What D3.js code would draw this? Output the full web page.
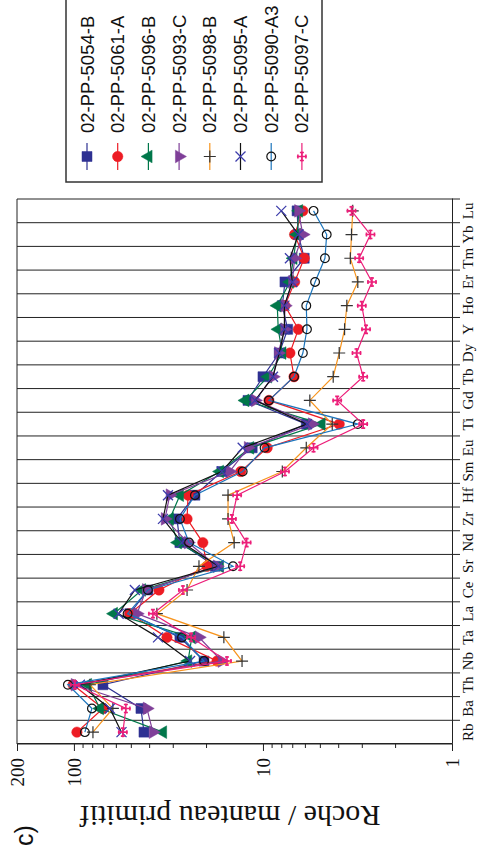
<!DOCTYPE html>
<html>
<head>
<meta charset="utf-8">
<script src="https://cdn.jsdelivr.net/npm/d3@7"></script>
<style>
body { margin: 0; background: #fff; }
</style>
</head>
<body>
<svg width="479" height="856"></svg>
<script>
var elements = ['Rb', 'Ba', 'Th', 'Nb', 'Ta', 'La', 'Ce', 'Sr', 'Nd', 'Zr', 'Hf', 'Sm',
    'Eu', 'Ti', 'Gd', 'Tb', 'Dy', 'Y', 'Ho', 'Er', 'Tm', 'Yb', 'Lu'];

var sampleNames = ['02-PP-5054-B', '02-PP-5061-A', '02-PP-5096-B', '02-PP-5093-C',
    '02-PP-5098-B', '02-PP-5095-A', '02-PP-5090-A3', '02-PP-5097-C'];

var pp5054B = [42.6, 44.2, 70.2, 20.5, 27.5, 50.6, 40.6, 17.9, 27.5, 28.5, 22.9, 16.5,
    11.4, 5.9, 12.0, 10.0, 8.2, 7.4, 7.9, 7.65, 6.05, 6.5, 6.6];
var pp5061A = [96.4, 70.2, 101, 17.5, 32.2, 50.6, 35.5, 19.8, 20.8, 25.2, 24.9, 13.1,
    9.5, 3.95, 9.3, 6.85, 7.2, 6.5, 7.65, 6.8, 6.05, 6.8, 6.15];
var pp5096B = [33.8, 72.8, 84.3, 24.9, 23.8, 61.5, 43.7, 16.9, 28.2, 31.1, 27.5, 16.9,
    11.7, 4.9, 12.4, 9.4, 7.9, 8.3, 8.4, 7.2, 6.9, 6.6, 6.45];
var pp5093C = [38.2, 41.1, 98.8, 16.5, 21.8, 46.4, 41.5, 17.5, 24.9, 33.0, 31.1, 15.0,
    12.0, 5.5, 11.0, 8.85, 8.3, 7.7, 7.65, 7.0, 6.8, 6.15, 6.5];
var pp5098B = [79.3, 62.2, 82.3, 12.9, 16.1, 36.4, 25.2, 21.8, 14.2, 15.3, 15.3, 7.9,
    5.9, 4.3, 5.65, 4.25, 3.95, 3.7, 3.6, 3.15, 3.45, 3.4, 3.35];
var pp5095A = [56, 64.5, 93, 24.3, 35.9, 58, 47.6, 17.2, 26.8, 33.8, 31.8, 16.5,
    12.8, 5.85, 11.0, 8.85, 8.2, 7.7, 7.7, 7.0, 7.2, 6.5, 8.0];
var pp5090A3 = [87.5, 80.3, 107.6, 20.5, 26.8, 52, 40.6, 14.4, 24.6, 27.5, 22.9, 12.8,
    9.8, 3.15, 9.3, 6.85, 6.15, 5.85, 5.9, 5.3, 4.7, 4.6, 5.4];
var pp5097C = [55.1, 53.1, 98.8, 15.5, 24.0, 38.2, 26.5, 13.2, 12.2, 14.6, 13.7, 7.65,
    5.4, 2.95, 4.05, 2.95, 3.2, 2.85, 3.0, 2.65, 3.1, 2.7, 3.4];

var majorTicks = [1, 10, 100, 200];
var minorTicks = [2, 3, 4, 5, 6, 7, 8, 9, 20, 30, 40, 50, 60, 70, 80, 90];

var series = [
    {name: sampleNames[0], values: pp5054B, line: '#2e3192', marker: 'square', color: '#2e3192'},
    {name: sampleNames[1], values: pp5061A, line: '#ed1c24', marker: 'dot', color: '#ed1c24'},
    {name: sampleNames[2], values: pp5096B, line: '#00774a', marker: 'up', color: '#00774a'},
    {name: sampleNames[3], values: pp5093C, line: '#7f3f98', marker: 'down', color: '#7f3f98'},
    {name: sampleNames[4], values: pp5098B, line: '#f7941d', marker: 'plus', color: '#333'},
    {name: sampleNames[5], values: pp5095A, line: '#111', marker: 'cross', color: '#3c3caa'},
    {name: sampleNames[6], values: pp5090A3, line: '#1c75bc', marker: 'ring', color: '#111'},
    {name: sampleNames[7], values: pp5097C, line: '#ec1e79', marker: 'potent', color: '#ec1e79'}
];

var svg = d3.select('svg');

// the chart is drawn upright (856 wide, 479 high) then turned a quarter turn
var chart = svg.append('g')
    .attr('transform', 'translate(0,856) rotate(-90)');

var x = d3.scaleBand()
    .domain(elements)
    .range([112, 657]);
var y = d3.scaleLog()
    .domain([1, 200])
    .range([452, 17]);

function cx(i) {
    return x(elements[i]) + x.bandwidth() / 2;
}

// vertical grid lines between elements
var bounds = d3.range(elements.length + 1);
chart.selectAll('.grid')
    .data(bounds)
    .enter()
    .append('line')
    .attr('class', 'grid')
    .attr('x1', function(d) { return 112 + d * x.bandwidth(); })
    .attr('x2', function(d) { return 112 + d * x.bandwidth(); })
    .attr('y1', 17)
    .attr('y2', function(d) { return d === 0 ? 452 : 460; })
    .attr('stroke', '#222')
    .attr('stroke-width', 1);

// top border
chart.append('line')
    .attr('x1', 112).attr('x2', 657)
    .attr('y1', 17).attr('y2', 17)
    .attr('stroke', '#222');

// element axis
var xAxis = chart.append('g')
    .attr('transform', 'translate(0,452)')
    .call(d3.axisBottom(x).tickSize(0).tickPadding(0));
xAxis.select('.domain').attr('stroke', '#222');
xAxis.selectAll('text')
    .attr('y', 21)
    .attr('dy', 0)
    .attr('fill', '#111')
    .style('font-family', '"Liberation Serif", "Times New Roman", serif')
    .style('font-size', '15px');

// value axis, log scale
var yAxis = chart.append('g')
    .attr('transform', 'translate(112,0)')
    .call(d3.axisLeft(y).tickValues(majorTicks).tickSize(7).tickPadding(7)
        .tickFormat(d3.format('d')));
yAxis.select('.domain').attr('stroke', '#222');
yAxis.selectAll('line').attr('stroke', '#222');
yAxis.selectAll('text')
    .attr('fill', '#111')
    .style('font-family', '"Liberation Serif", "Times New Roman", serif')
    .style('font-size', '19px');

var yMinor = chart.append('g')
    .attr('transform', 'translate(112,0)')
    .call(d3.axisLeft(y).tickValues(minorTicks).tickSize(4).tickFormat(''));
yMinor.select('.domain').remove();
yMinor.selectAll('line').attr('stroke', '#222');

chart.append('text')
    .attr('transform', 'translate(50,230) rotate(-90)')
    .attr('text-anchor', 'middle')
    .attr('fill', '#111')
    .style('font-family', '"Liberation Serif", "Times New Roman", serif')
    .style('font-size', '30px')
    .text('Roche / manteau primitif');

chart.append('text')
    .attr('x', 10)
    .attr('y', 33)
    .attr('fill', '#111')
    .style('font-family', '"Liberation Sans", Arial, sans-serif')
    .style('font-size', '25px')
    .text('c)');

// marker shapes
function markerPath(kind) {
    if (kind === 'square') return d3.symbol().type(d3.symbolSquare).size(100)();
    if (kind === 'dot') return d3.symbol().type(d3.symbolCircle).size(85)();
    if (kind === 'up') return d3.symbol().type(d3.symbolTriangle).size(70)();
    if (kind === 'down') return d3.symbol().type(d3.symbolTriangle).size(70)();
    if (kind === 'ring') return d3.symbol().type(d3.symbolCircle).size(60)();
    if (kind === 'plus') return 'M-6,0H6M0,-6V6';
    if (kind === 'cross') return 'M-5,-5L5,5M-5,5L5,-5';
    return 'M-5,0H5M0,-5V5M-4,-2V2M4,-2V2M-2,-4H2M-2,4H2';
}

function drawMarker(sel, s) {
    sel.append('path')
        .attr('d', markerPath(s.marker))
        .attr('transform', function() {
            return s.marker === 'down' ? 'rotate(180)' : null;
        })
        .attr('fill', function() {
            if (s.marker === 'plus' || s.marker === 'cross' || s.marker === 'potent' || s.marker === 'ring') return 'none';
            return s.color;
        })
        .attr('stroke', s.color)
        .attr('stroke-width', function() {
            if (s.marker === 'potent') return 1.6;
            if (s.marker === 'ring') return 1.2;
            if (s.marker === 'cross') return 1.3;
            if (s.marker === 'plus') return 1.2;
            return 0.5;
        });
}

var line = d3.line()
    .x(function(d, i) { return cx(i); })
    .y(function(d) { return y(d); });

var sample = chart.selectAll('.sample')
    .data(series)
    .enter()
    .append('g')
    .attr('class', 'sample');

sample.append('path')
    .attr('d', function(d) { return line(d.values); })
    .attr('fill', 'none')
    .attr('stroke', function(d) { return d.line; })
    .attr('stroke-width', 1.2);

sample.each(function(s) {
    d3.select(this).selectAll('.pt')
        .data(s.values)
        .enter()
        .append('g')
        .attr('class', 'pt')
        .attr('transform', function(d, i) {
            return 'translate(' + [cx(i), y(d)] + ')';
        })
        .each(function() { drawMarker(d3.select(this), s); });
});

// legend
var legend = chart.append('g');
legend.append('rect')
    .attr('x', 674)
    .attr('y', 66)
    .attr('width', 200)
    .attr('height', 256)
    .attr('fill', '#fff')
    .attr('stroke', '#333')
    .attr('stroke-width', 1.5);

var item = legend.selectAll('.item')
    .data(series)
    .enter()
    .append('g')
    .attr('class', 'item')
    .attr('transform', function(d, i) {
        return 'translate(' + [699.5, 87 + i * 30.7] + ')';
    });

item.append('line')
    .attr('x1', -13.5)
    .attr('x2', 13.5)
    .attr('stroke', function(d) { return d.line; })
    .attr('stroke-width', 1.2);

item.each(function(s) { drawMarker(d3.select(this), s); });

item.append('text')
    .attr('x', 23.5)
    .attr('y', 6.5)
    .attr('fill', '#111')
    .style('font-family', '"Liberation Sans", Arial, sans-serif')
    .style('font-size', '18.5px')
    .text(function(d) { return d.name; });
</script>
</body>
</html>
